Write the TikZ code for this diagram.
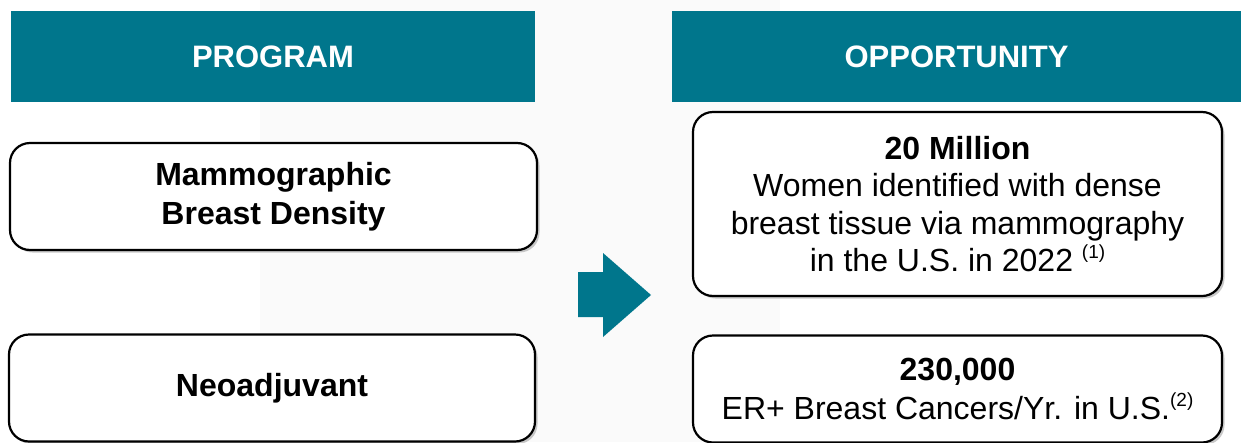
\documentclass[tikz,border=0pt]{standalone}
\usepackage{fontspec}
\setmainfont{Liberation Sans}
\usetikzlibrary{shadows}
\definecolor{teal}{RGB}{0,118,140}
\definecolor{bggray}{RGB}{250,250,250}
\begin{document}
\begin{tikzpicture}[x=1pt,y=-1pt,
  header/.style={fill=teal,draw=none,text=white,font=\fontsize{31}{37}\selectfont\bfseries,inner sep=0pt},
  card/.style={draw=black,line width=2.2pt,fill=white,rounded corners=20pt,inner sep=0pt,align=center,
     drop shadow={shadow xshift=2.5pt,shadow yshift=-2.5pt,opacity=0.35,fill=black!60}},
  big/.style={font=\fontsize{32}{39}\selectfont}]
\useasboundingbox (0,0) rectangle (1241,442);
\fill[white] (0,0) rectangle (1241,442);
\fill[bggray] (260,0) rectangle (780,442);
% headers
\node[header,minimum width=524pt,minimum height=91pt] (hprog) at (273,56.5) {PROGRAM};
\node[header,minimum width=569pt,minimum height=91pt] (hopp) at (956.5,56.5) {OPPORTUNITY};
% left cards
\node[card,big,minimum width=527pt,minimum height=107pt] (mbd) at (273.5,196.5)
  {\bfseries Mammographic\\\bfseries Breast Density};
\node[card,big,minimum width=526pt,minimum height=107pt] (neo) at (272,388)
  {\bfseries Neoadjuvant};
% right cards
\node[card,font=\fontsize{32}{37.5}\selectfont,minimum width=529pt,minimum height=184pt] (mil) at (957.5,204)
  {\bfseries 20 Million\\Women identified with dense\\breast tissue via mammography\\in the U.S. in 2022 \raisebox{0.42em}{\fontsize{19}{19}\selectfont(1)}};
\node[card,big,minimum width=529pt,minimum height=107pt] (er) at (957.5,389)
  {\bfseries 230,000\\ER+ Breast Cancers/Yr. in U.S.\raisebox{0.42em}{\fontsize{19}{19}\selectfont(2)}};
% arrow
\fill[teal] (578,272) -- (603,272) -- (603,253) -- (651,295) -- (603,337) -- (603,317) -- (578,317) -- cycle;
\end{tikzpicture}
\end{document}
